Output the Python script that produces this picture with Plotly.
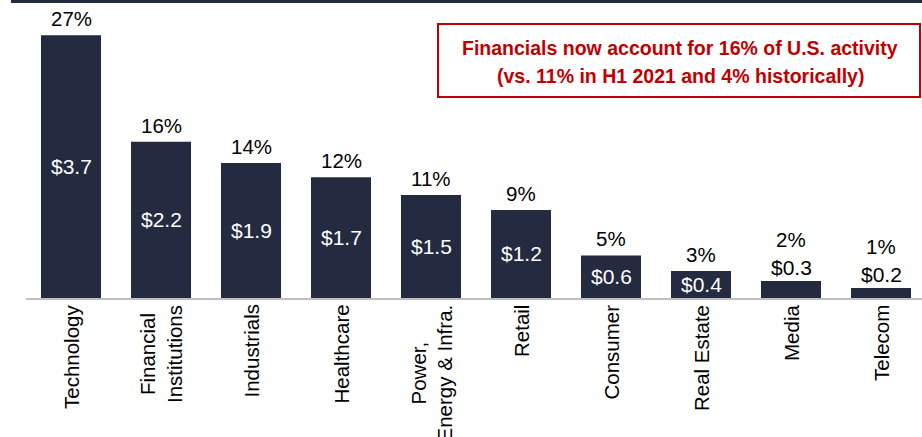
import plotly.graph_objects as go

categories = ["Technology", "Financial<br>Institutions", "Industrials", "Healthcare",
              "Power,<br>Energy & Infra.", "Retail", "Consumer", "Real Estate", "Media", "Telecom"]
values = [3.7, 2.2, 1.9, 1.7, 1.45, 1.24, 0.6, 0.38, 0.24, 0.14]
dollar_labels = ["$3.7", "$2.2", "$1.9", "$1.7", "$1.5", "$1.2", "$0.6", "$0.4", "$0.3", "$0.2"]
pct_labels = ["27%", "16%", "14%", "12%", "11%", "9%", "5%", "3%", "2%", "1%"]
inside = [True, True, True, True, True, True, True, True, False, False]
callout_lines = ["Financials now account for 16% of U.S. activity",
                 "(vs. 11% in H1 2021 and 4% historically)"]

BAR = "#242A3F"
RED = "#C00000"
FONT = "Liberation Sans, Arial, sans-serif"

W, H = 922, 437
L, R, T, B = 26, 0, 8, 139
plot_w = W - L - R
plot_h = H - T - B
px_per_unit = 71.0
cat_px = 90.0

fig = go.Figure()
xs = list(range(len(categories)))
fig.add_trace(go.Bar(x=xs, y=values, width=60 / cat_px, marker_color=BAR,
                     marker_line_width=0, hoverinfo="skip"))

ann = []
for i, (v, d, p, ins, c) in enumerate(zip(values, dollar_labels, pct_labels, inside, categories)):
    if ins:
        ann.append(dict(x=i, y=v / 2, text=d, showarrow=False, xref="x", yref="y",
                        xanchor="center", yanchor="middle",
                        font=dict(family=FONT, size=21, color="white")))
        ann.append(dict(x=i, y=v, text=p, showarrow=False, xref="x", yref="y",
                        xanchor="center", yanchor="bottom", yshift=3,
                        font=dict(family=FONT, size=20.5, color="black")))
    else:
        ann.append(dict(x=i, y=v, text=d, showarrow=False, xref="x", yref="y",
                        xanchor="center", yanchor="bottom", yshift=0,
                        font=dict(family=FONT, size=21, color="black")))
        ann.append(dict(x=i, y=v, text=p, showarrow=False, xref="x", yref="y",
                        xanchor="center", yanchor="bottom", yshift=28,
                        font=dict(family=FONT, size=20.5, color="black")))
    ann.append(dict(x=i, y=0, text=c, showarrow=False, xref="x", yref="y",
                    xanchor="center", yanchor="top", yshift=-5, textangle=-90, align="center",
                    font=dict(family=FONT, size=20.5, color="black")))

# callout box
def px_x(px):
    return (px - L) / plot_w

def px_y(py):
    return (H - B - py) / plot_h

for line, cy in zip(callout_lines, [48, 76]):
    ann.append(dict(x=px_x(680), y=px_y(cy), xref="paper", yref="paper", showarrow=False,
                    xanchor="center", yanchor="middle", text="<b>" + line + "</b>",
                    font=dict(family=FONT, size=19.5, color=RED)))

shapes = [
    dict(type="rect", xref="paper", yref="paper", x0=px_x(438), x1=px_x(920),
         y0=px_y(97), y1=px_y(24), line=dict(color=RED, width=2), fillcolor="white", layer="below"),
    dict(type="rect", xref="paper", yref="paper", x0=px_x(11), x1=px_x(922),
         y0=px_y(3), y1=px_y(0), line=dict(width=0), fillcolor=BAR),
]

fig.update_layout(
    width=W, height=H,
    margin=dict(l=L, r=R, t=T, b=B, pad=0),
    plot_bgcolor="white", paper_bgcolor="white",
    showlegend=False,
    annotations=ann, shapes=shapes,
    xaxis=dict(range=[-0.5, -0.5 + plot_w / cat_px], showticklabels=False, ticks="",
               showgrid=False, zeroline=False, showline=True, linecolor="#BFBFBF", linewidth=2,
               fixedrange=True),
    yaxis=dict(range=[0, plot_h / px_per_unit], visible=False, showgrid=False, zeroline=False,
               fixedrange=True),
)

fig.write_html("out.html", config={"displayModeBar": False},
               post_script="document.body.style.margin='0';document.body.style.overflow='hidden';")
